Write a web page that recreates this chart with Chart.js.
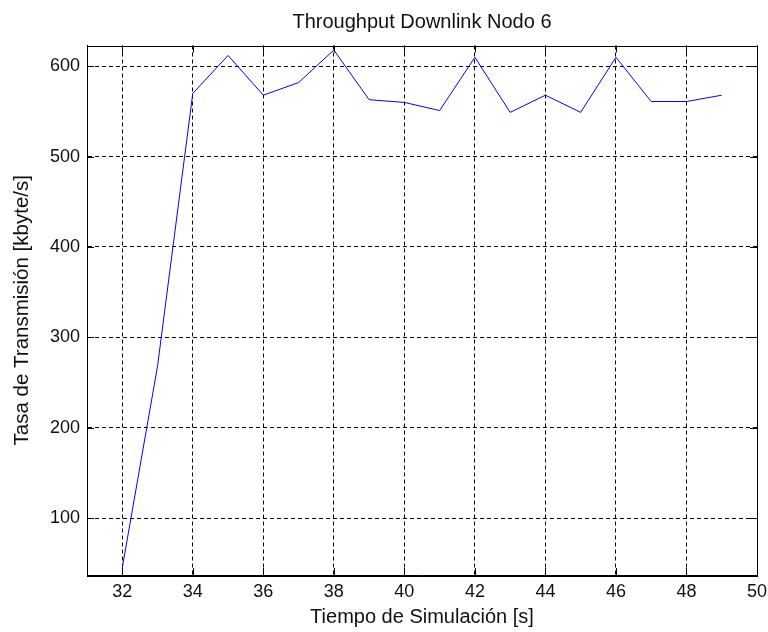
<!DOCTYPE html>
<html>
<head>
<meta charset="utf-8">
<title>Throughput Downlink Nodo 6</title>
<script src="https://cdn.jsdelivr.net/npm/chart.js@4/dist/chart.umd.min.js"></script>
<style>
  html, body { margin: 0; padding: 0; background: #fff; }
  canvas { display: block; }
</style>
</head>
<body>
<canvas id="throughputChart" width="768" height="632"></canvas>
<script>
// simulation time [s]
const tiempos = [32, 33, 34, 35, 36, 37, 38, 39, 40, 41, 42, 43, 44, 45, 46, 47, 48, 49];
// throughput [kbyte/s]
const tasas = [45, 268, 570, 612, 568, 582, 618, 563, 560, 551, 610, 549, 568, 549, 610, 561, 561, 568];

const xTicks = [32, 34, 36, 38, 40, 42, 44, 46, 48, 50];
const yTicks = [100, 200, 300, 400, 500, 600];

const fontFamily = '"Liberation Sans", Arial, sans-serif';
const textColor = '#111';

// box around the axes + small inward tick marks, like the matlab figure
const boxPlugin = {
    id: 'axesBox',
    afterDraw(chart) {
        const { ctx, chartArea: a, scales } = chart;
        const len = 7;
        ctx.save();
        ctx.strokeStyle = '#000';
        ctx.lineWidth = 1;
        ctx.setLineDash([]);
        ctx.beginPath();
        xTicks.forEach(v => {
            const px = Math.round(scales.x.getPixelForValue(v)) + 0.5;
            ctx.moveTo(px, a.bottom); ctx.lineTo(px, a.bottom - len);
            ctx.moveTo(px, a.top); ctx.lineTo(px, a.top + len);
        });
        yTicks.forEach(v => {
            const py = Math.round(scales.y.getPixelForValue(v)) + 0.5;
            ctx.moveTo(a.left, py); ctx.lineTo(a.left + len, py);
            ctx.moveTo(a.right, py); ctx.lineTo(a.right - len, py);
        });
        ctx.stroke();
        ctx.strokeRect(Math.round(a.left) + 0.5, Math.round(a.top) + 0.5,
            Math.round(a.right - a.left), Math.round(a.bottom - a.top));
        ctx.restore();
    }
};

const ctx = document.getElementById('throughputChart');

new Chart(ctx, {
    type: 'line',
    data: {
        datasets: [{
            label: 'Nodo 6',
            data: tiempos.map((t, i) => ({ x: t, y: tasas[i] })),
            borderColor: '#0000ff',
            borderWidth: 1,
            pointRadius: 0,
            tension: 0,
            fill: false
        }]
    },
    options: {
        responsive: false,
        animation: false,
        devicePixelRatio: 1,
        layout: { padding: { left: 0, right: 11, top: 0, bottom: 0 } },
        plugins: {
            legend: { display: false },
            tooltip: { enabled: false },
            title: {
                display: true,
                fullSize: false,
                text: 'Throughput Downlink Nodo 6',
                color: textColor,
                font: { family: fontFamily, size: 20, weight: 'normal', lineHeight: 1.2 },
                padding: { top: 10, bottom: 11.5 }
            }
        },
        scales: {
            x: {
                type: 'linear',
                min: 31,
                max: 50,
                afterBuildTicks: axis => { axis.ticks = xTicks.map(v => ({ value: v })); },
                afterFit: axis => {
                    axis.height = 57;
                    axis.paddingLeft = 0;
                    axis.paddingRight = 0;
                },
                grid: {
                    color: '#000',
                    lineWidth: 1,
                    drawTicks: false
                },
                border: { display: true, color: '#000', width: 1, dash: [4, 3] },
                ticks: {
                    color: textColor,
                    padding: 6,
                    maxRotation: 0,
                    font: { family: fontFamily, size: 18 }
                },
                title: {
                    display: true,
                    text: 'Tiempo de Simulación [s]',
                    color: textColor,
                    font: { family: fontFamily, size: 20, lineHeight: 1.2 },
                    padding: { top: 0, bottom: 3 }
                }
            },
            y: {
                min: 37,
                max: 623,
                afterBuildTicks: axis => { axis.ticks = yTicks.map(v => ({ value: v })); },
                afterFit: axis => {
                    axis.width = 87;
                    axis.paddingTop = 0;
                    axis.paddingBottom = 0;
                },
                grid: {
                    color: '#000',
                    lineWidth: 1,
                    drawTicks: false
                },
                border: { display: true, color: '#000', width: 1, dash: [4, 3] },
                ticks: {
                    color: textColor,
                    padding: 7,
                    font: { family: fontFamily, size: 18 }
                },
                title: {
                    display: true,
                    text: 'Tasa de Transmisión [kbyte/s]',
                    color: textColor,
                    font: { family: fontFamily, size: 20.5, lineHeight: 1.2 },
                    padding: { top: 9.7, bottom: 0 }
                }
            }
        }
    },
    plugins: [boxPlugin]
});
</script>
</body>
</html>
